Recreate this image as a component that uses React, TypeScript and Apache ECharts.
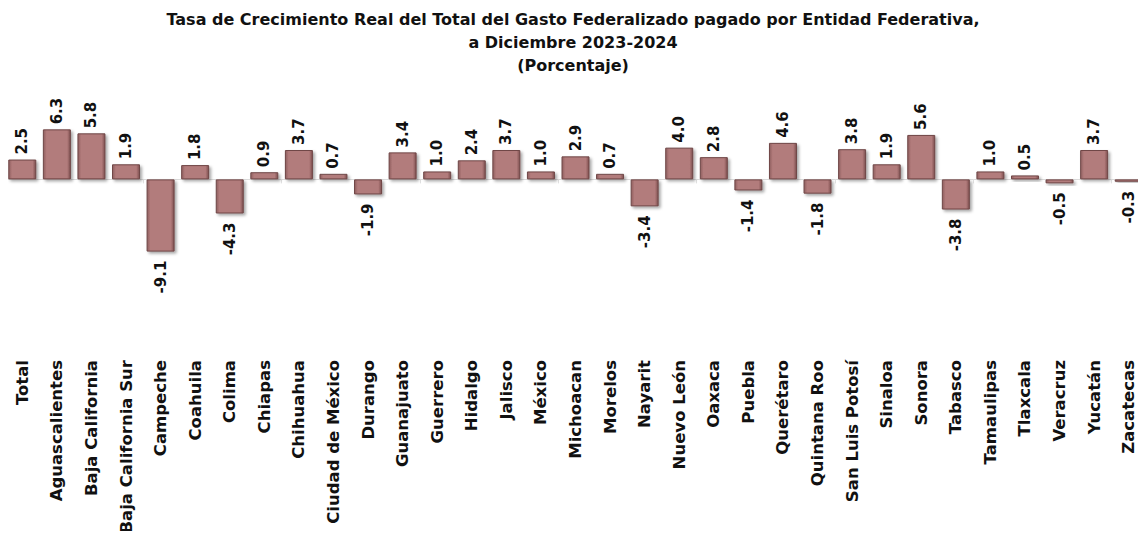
import React, { useEffect, useRef } from "react";
import * as echarts from "echarts";

const categories = [
  "Total", "Aguascalientes", "Baja California", "Baja California Sur", "Campeche",
  "Coahuila", "Colima", "Chiapas", "Chihuahua", "Ciudad de México", "Durango",
  "Guanajuato", "Guerrero", "Hidalgo", "Jalisco", "México", "Michoacan", "Morelos",
  "Nayarit", "Nuevo León", "Oaxaca", "Puebla", "Querétaro", "Quintana Roo",
  "San Luis Potosí", "Sinaloa", "Sonora", "Tabasco", "Tamaulipas", "Tlaxcala",
  "Veracruz", "Yucatán", "Zacatecas",
];

const values = [
  2.5, 6.3, 5.8, 1.9, -9.1, 1.8, -4.3, 0.9, 3.7, 0.7, -1.9,
  3.4, 1.0, 2.4, 3.7, 1.0, 2.9, 0.7, -3.4, 4.0, 2.8, -1.4,
  4.6, -1.8, 3.8, 1.9, 5.6, -3.8, 1.0, 0.5, -0.5, 3.7, -0.3,
];

const titleLines = [
  "Tasa de Crecimiento Real del Total del Gasto Federalizado pagado por Entidad Federativa,",
  "a Diciembre 2023-2024",
  "(Porcentaje)",
];

const FONT = "DejaVu Sans";

export default function App() {
  const ref = useRef<HTMLDivElement>(null);
  useEffect(() => {
    if (!ref.current) return;
    const chart = echarts.init(ref.current, null, { renderer: "svg" });
    const barColor = new echarts.graphic.LinearGradient(0, 0, 1, 0, [
      { offset: 0, color: "#8f5f5f" },
      { offset: 0.12, color: "#b27b7b" },
      { offset: 0.88, color: "#b27b7b" },
      { offset: 1, color: "#7e5050" },
    ]);
    chart.setOption({
      animation: false,
      backgroundColor: "#ffffff",
      title: {
        text: titleLines.join("\n"),
        left: "center",
        top: 3,
        textStyle: {
          fontFamily: FONT,
          fontWeight: "bold",
          fontSize: 16,
          lineHeight: 23,
          color: "#111111",
        },
      },
      grid: { left: 5, right: 0, top: 100, height: 254, containLabel: false },
      xAxis: [
        {
          type: "category",
          data: categories,
          axisLine: { onZero: true, lineStyle: { color: "#dcdcdc", width: 1 } },
          axisTick: { show: true, length: 4, lineStyle: { color: "#e2e2e2" } },
          axisLabel: { show: false },
        },
        {
          type: "category",
          data: categories,
          position: "bottom",
          axisLine: { show: false, onZero: false },
          axisTick: { show: false },
          axisLabel: {
            interval: 0,
            rotate: 90,
            margin: 6,
            fontFamily: FONT,
            fontWeight: "bold",
            fontSize: 16.5,
            color: "#111111",
          },
        },
      ],
      yAxis: {
        type: "value",
        min: -22,
        max: 10,
        show: false,
        splitLine: { show: false },
      },
      series: [
        {
          type: "bar",
          xAxisIndex: 0,
          barWidth: 28,
          data: values.map((v) => ({
            value: v,
            label: v >= 0
              ? { position: "top", align: "left", distance: 5 }
              : { position: "bottom", align: "right", distance: 9 },
          })),
          itemStyle: {
            color: barColor,
            borderColor: "#6f4646",
            borderWidth: 1,
            shadowColor: "rgba(0,0,0,0.35)",
            shadowBlur: 3,
            shadowOffsetX: 2,
            shadowOffsetY: 2,
          },
          label: {
            show: true,
            rotate: 90,
            verticalAlign: "middle",
            fontFamily: FONT,
            fontWeight: "bold",
            fontSize: 15,
            color: "#111111",
            formatter: (p: any) => Number(p.value).toFixed(1),
          },
        },
      ],
    });
    return () => chart.dispose();
  }, []);
  return <div ref={ref} style={{ width: 1146, height: 539, margin: -8 }} />;
}
